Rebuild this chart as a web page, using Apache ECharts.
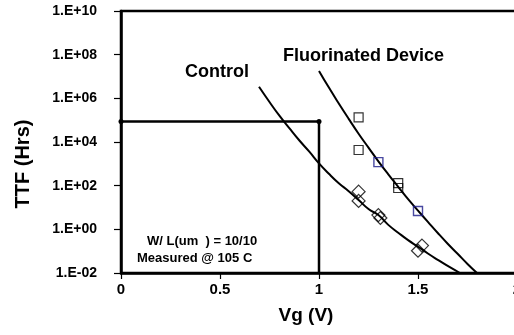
<!DOCTYPE html>
<html>
<head>
<meta charset="utf-8">
<script src="https://cdn.jsdelivr.net/npm/echarts@6/dist/echarts.min.js"></script>
<style>
  html, body { margin: 0; padding: 0; background: #fff; overflow: hidden; }
  #chart { width: 514px; height: 335px; }
</style>
</head>
<body>
<div id="chart"></div>
<script>
// ---- data ----
const xTicks = [0, 0.5, 1, 1.5, 2];
const yTickExponents = [-2, 0, 2, 4, 6, 8, 10];

// Fitted curve: Control
const controlCurveX = [0.697, 0.75, 0.80, 0.85, 0.90, 0.95, 1.00, 1.05, 1.10, 1.15, 1.20, 1.25, 1.30, 1.35, 1.40, 1.45, 1.50, 1.55, 1.60, 1.65, 1.712];
const controlCurveY = [3.4e6, 6.8e5, 1.6e5, 4.3e4, 1.2e4, 3.7e3, 1.05e3, 350, 130, 56, 22, 8.5, 4.5, 1.6, 0.7, 0.32, 0.16, 0.078, 0.04, 0.021, 0.01];

// Fitted curve: Fluorinated Device
const fluorCurveX = [1.0, 1.05, 1.10, 1.15, 1.20, 1.25, 1.30, 1.35, 1.40, 1.45, 1.50, 1.55, 1.60, 1.65, 1.70, 1.75, 1.798];
const fluorCurveY = [1.8e7, 3.1e6, 5.8e5, 1.15e5, 2.4e4, 5.5e3, 1.3e3, 330, 89, 24, 7.2, 2.2, 0.68, 0.22, 0.076, 0.026, 0.01];

// Measured points
const fluorPtsX = [1.2, 1.2, 1.4, 1.4];
const fluorPtsY = [1.35e5, 4.3e3, 130, 78];
const fluorPts2X = [1.3, 1.5];
const fluorPts2Y = [1.2e3, 6.9];
const controlPtsX = [1.2, 1.2, 1.3, 1.31, 1.52, 1.5];
const controlPtsY = [53, 20, 4.5, 3.3, 0.18, 0.105];

// 10-year target box
const targetX = [0, 1, 1];
const targetY = [87600, 87600, 0.01];

const labels = {
  control: 'Control',
  fluor: 'Fluorinated Device',
  cond1: 'W/ L(um  ) = 10/10',
  cond2: 'Measured @ 105 C',
  xName: 'Vg (V)',
  yName: 'TTF (Hrs)'
};

// ---- chart ----
const zip = (xs, ys) => xs.map((x, i) => [x, ys[i]]);
const FONT = 'Liberation Sans, Arial, Helvetica, sans-serif';

function fmtExp(v) {
  const e = Math.round(Math.log10(v));
  const s = e < 0 ? '-' : '+';
  const a = Math.abs(e);
  return '1.E' + s + (a < 10 ? '0' + a : '' + a);
}

const chart = echarts.init(document.getElementById('chart'), null, { renderer: 'canvas' });
chart.setOption({
  animation: false,
  backgroundColor: '#fff',
  grid: {
    left: 121, top: 11, right: -3, bottom: 62,
    outerBoundsMode: 'none', containLabel: false,
    show: true, borderColor: '#000', borderWidth: 2.5, backgroundColor: 'transparent'
  },
  xAxis: {
    type: 'value', min: xTicks[0], max: xTicks[xTicks.length - 1], interval: 0.5,
    name: labels.xName, nameLocation: 'middle', nameGap: 33,
    nameTextStyle: { fontFamily: FONT, fontWeight: 'bold', fontSize: 19, color: '#000', padding: [0, 26, 0, 0] },
    axisLine: { show: true, onZero: false, lineStyle: { color: '#000', width: 2.5 } },
    axisTick: { show: true, inside: false, length: 6, lineStyle: { color: '#000', width: 1.2 } },
    axisLabel: { margin: 9, fontFamily: FONT, fontWeight: 'bold', fontSize: 15, color: '#000',
      hideOverlap: false, formatter: v => String(v) },
    splitLine: { show: false }
  },
  yAxis: {
    type: 'log', logBase: 10, min: Math.pow(10, yTickExponents[0]), max: Math.pow(10, yTickExponents[yTickExponents.length - 1]),
    interval: 2,
    name: labels.yName, nameLocation: 'middle', nameGap: 88,
    nameTextStyle: { fontFamily: FONT, fontWeight: 'bold', fontSize: 20, color: '#000', padding: [0, 44, 0, 0] },
    axisLine: { show: true, lineStyle: { color: '#000', width: 2.5 } },
    axisTick: { show: true, inside: false, length: 7, lineStyle: { color: '#000', width: 1.2 } },
    minorTick: { show: false },
    axisLabel: { margin: 24, fontFamily: FONT, fontWeight: 'bold', fontSize: 14, color: '#000',
      formatter: fmtExp },
    splitLine: { show: false }
  },
  series: [
    {
      name: 'Target', type: 'line', data: zip(targetX, targetY),
      symbol: 'circle', symbolSize: (v, p) => p.dataIndex < 2 ? 5 : 0,
      itemStyle: { color: '#000' },
      lineStyle: { color: '#000', width: 2.5 }, z: 3
    },
    {
      name: 'Control fit', type: 'line', data: zip(controlCurveX, controlCurveY),
      smooth: true, showSymbol: false, symbol: 'none',
      lineStyle: { color: '#000', width: 2 }, z: 4
    },
    {
      name: 'Fluorinated fit', type: 'line', data: zip(fluorCurveX, fluorCurveY),
      smooth: true, showSymbol: false, symbol: 'none',
      lineStyle: { color: '#000', width: 2 }, z: 4
    },
    {
      name: 'Fluorinated', type: 'scatter', data: zip(fluorPtsX, fluorPtsY),
      symbol: 'rect', symbolSize: 9,
      itemStyle: { color: 'rgba(255,255,255,0)', borderColor: '#000', borderWidth: 1.2 }, z: 5
    },
    {
      name: 'Fluorinated 2', type: 'scatter', data: zip(fluorPts2X, fluorPts2Y),
      symbol: 'rect', symbolSize: 9,
      itemStyle: { color: 'rgba(255,255,255,0)', borderColor: '#1c1c8a', borderWidth: 1.4 }, z: 5
    },
    {
      name: 'Control', type: 'scatter', data: zip(controlPtsX, controlPtsY),
      symbol: 'diamond', symbolSize: 13,
      itemStyle: { color: 'rgba(255,255,255,0)', borderColor: '#000', borderWidth: 1.2 }, z: 5
    }
  ],
  graphic: [
    { type: 'text', left: 185, top: 63, style: { text: labels.control, fontFamily: FONT, fontWeight: 'bold', fontSize: 18, fill: '#000' } },
    { type: 'text', left: 283, top: 47, style: { text: labels.fluor, fontFamily: FONT, fontWeight: 'bold', fontSize: 18, fill: '#000' } },
    { type: 'text', left: 147, top: 235, style: { text: labels.cond1, fontFamily: FONT, fontWeight: 'bold', fontSize: 13, fill: '#000' } },
    { type: 'text', left: 137, top: 252, style: { text: labels.cond2, fontFamily: FONT, fontWeight: 'bold', fontSize: 13, fill: '#000' } }
  ]
});
</script>
</body>
</html>
